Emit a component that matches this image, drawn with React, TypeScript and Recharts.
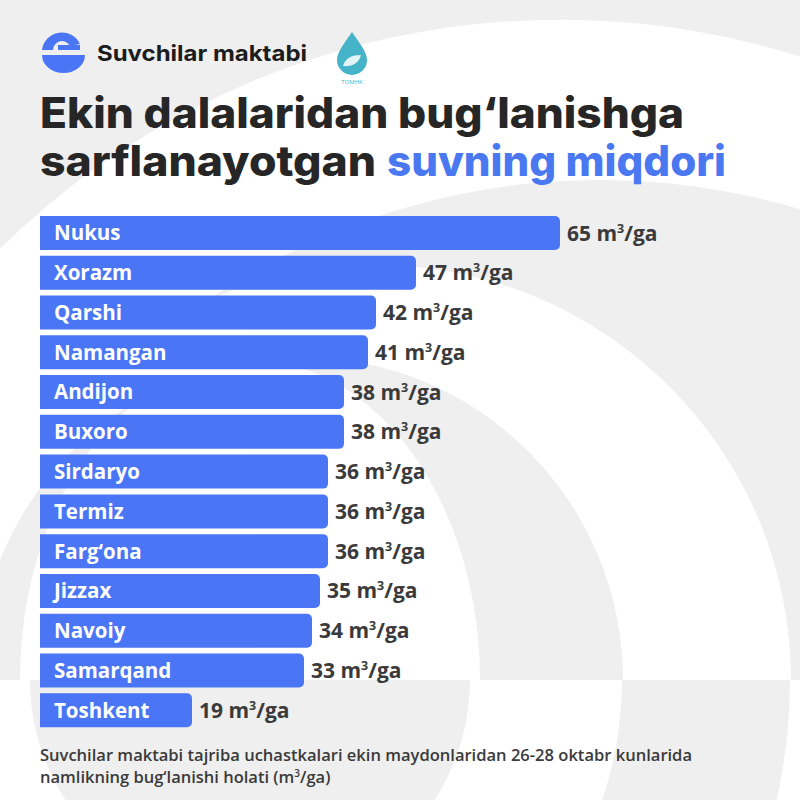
import { BarChart, Bar, XAxis, YAxis, LabelList } from 'recharts';

const regions = [
  'Nukus', 'Xorazm', 'Qarshi', 'Namangan', 'Andijon', 'Buxoro', 'Sirdaryo',
  'Termiz', 'Farg‘ona', 'Jizzax', 'Navoiy', 'Samarqand', 'Toshkent',
];
// evaporation, m³/ga
const evaporation = [65, 47, 42, 41, 38, 38, 36, 36, 36, 35, 34, 33, 19];

const data = regions.map((region, i) => ({ region, value: evaporation[i] }));

const BLUE = '#4a76f5';
const TITLE_BLUE = '#4a78f0';
const DARK = '#262626';
const FONT = '"Open Sans", "Noto Sans", sans-serif';
const HEAD_FONT = 'Inter, "Noto Sans", sans-serif';

// circle as a path, so two of them with evenodd make a ring
const circle = (cx: number, cy: number, r: number) =>
  `M ${cx - r} ${cy} a ${r} ${r} 0 1 0 ${2 * r} 0 a ${r} ${r} 0 1 0 ${-2 * r} 0 Z`;

function Backdrop() {
  return (
    <svg width={800} height={800} style={{ position: 'absolute', left: 0, top: 0 }}>
      <defs>
        <clipPath id="upper"><rect x={0} y={0} width={800} height={680} /></clipPath>
        <clipPath id="lower"><rect x={0} y={680} width={800} height={120} /></clipPath>
      </defs>
      <rect width={800} height={800} fill="#efefef" />
      <g clipPath="url(#upper)" fill="#fff" fillRule="evenodd">
        <path d={circle(560, 820, 800) + circle(600, 880, 700)} />
        <path d={circle(376, 680, 415) + circle(300, 680, 323)} />
        <ellipse cx={250} cy={680} rx={230} ry={320} />
      </g>
      <g clipPath="url(#lower)" fill="#fff" fillRule="evenodd">
        <path d={circle(250, 680, 372) + circle(250, 680, 220)} />
        <path d={circle(250, 680, 640) + circle(250, 680, 540)} />
      </g>
    </svg>
  );
}

function Header() {
  return (
    <svg width={800} height={800} style={{ position: 'absolute', left: 0, top: 0 }}>
      {/* logo */}
      <path d="M 42 50 A 20 20 0 0 1 80 44 L 70 46 A 9 9 0 0 0 53 50 Z" fill={BLUE} />
      <rect x={58} y={45} width={22} height={5} fill={BLUE} />
      <path d="M 42 55 L 85 55 A 21.5 18 0 0 1 42 55 Z" fill={BLUE} />
      <text x={97} y={61} fontFamily={HEAD_FONT} fontWeight={700} fontSize={22} fill="#1c1c1c"
        textLength={210} lengthAdjust="spacingAndGlyphs">Suvchilar maktabi</text>
      {/* drop */}
      <path d="M 352 32 C 360 44 367 52 367 60 A 15 15 0 0 1 337 60 C 337 52 344 44 352 32 Z" fill="#45b3c8" />
      <path d="M 343 66 C 345 58 352 55 361 55 C 359 63 352 67 343 66 Z" fill="#fff" opacity={0.85} />
      <text x={352} y={84} textAnchor="middle" fontFamily={FONT} fontSize={6} fill="#45b3c8">TOMHK</text>

      {/* title */}
      <text x={40} y={128} fontFamily={HEAD_FONT} fontWeight={800} fontSize={42} fill={DARK}
        textLength={644} lengthAdjust="spacingAndGlyphs">Ekin dalalaridan bug‘lanishga</text>
      <text x={40} y={176} fontFamily={HEAD_FONT} fontWeight={800} fontSize={42} fill={DARK}
        textLength={336} lengthAdjust="spacingAndGlyphs">sarflanayotgan</text>
      <text x={387} y={176} fontFamily={HEAD_FONT} fontWeight={800} fontSize={42} fill={TITLE_BLUE}
        textLength={339} lengthAdjust="spacingAndGlyphs">suvning miqdori</text>

      {/* footnote */}
      <text x={40} y={761} fontFamily={FONT} fontWeight={600} fontSize={16} fill="#3a3a3a"
        textLength={652} lengthAdjust="spacingAndGlyphs">
        Suvchilar maktabi tajriba uchastkalari ekin maydonlaridan 26-28 oktabr kunlarida
      </text>
      <text x={40} y={783} fontFamily={FONT} fontWeight={600} fontSize={16.5} fill="#3a3a3a">
        namlikning bug‘lanishi holati (m<tspan dy={-6} fontSize={10}>3</tspan><tspan dy={6}>/ga)</tspan>
      </text>
    </svg>
  );
}

const NameLabel = (props: any) => {
  const { x, y, height, value } = props;
  return (
    <text x={x + 14} y={y + height / 2} dy="0.36em" fill="#fff" fontSize={20.5}
      fontWeight={700} fontFamily={FONT}>{value}</text>
  );
};

const ValueLabel = (props: any) => {
  const { x, y, width, height, value } = props;
  return (
    <text x={x + width + 7} y={y + height / 2} dy="0.36em" fill="#3a3a3a" fontSize={21}
      fontWeight={700} fontFamily={FONT}>
      {value} m<tspan dy={-8} fontSize={12.5}>3</tspan><tspan dy={8}>/ga</tspan>
    </text>
  );
};

export default function App() {
  return (
    <div style={{ position: 'absolute', left: 0, top: 0, width: 800, height: 800, overflow: 'hidden' }}>
      <Backdrop />
      <Header />
      <div style={{ position: 'absolute', left: 0, top: 0 }}>
        <BarChart width={800} height={800} data={data} layout="vertical"
          margin={{ top: 213, right: 240, bottom: 70, left: 40 }}>
          <XAxis type="number" domain={[0, 65]} hide />
          <YAxis type="category" dataKey="region" hide />
          <Bar dataKey="value" fill={BLUE} barSize={34} radius={[0, 5, 5, 0]} isAnimationActive={false}>
            <LabelList dataKey="region" content={NameLabel} />
            <LabelList dataKey="value" content={ValueLabel} />
          </Bar>
        </BarChart>
      </div>
    </div>
  );
}
